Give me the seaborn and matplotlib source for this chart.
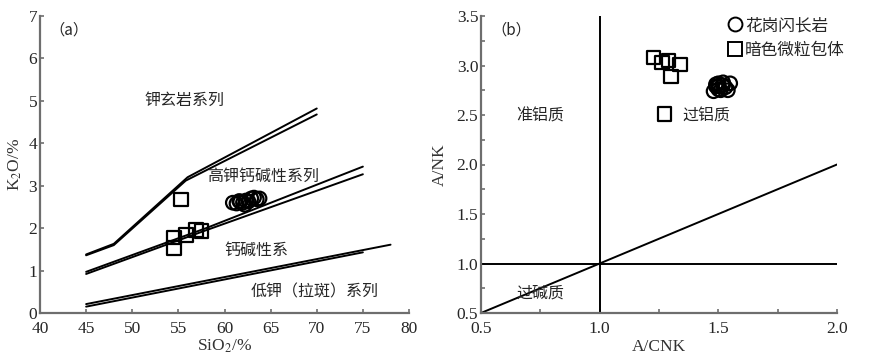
import pandas as pd
import matplotlib.pyplot as plt
import seaborn as sns
from matplotlib.lines import Line2D
from matplotlib.ticker import MultipleLocator

sns.set_style("ticks")
plt.rcParams["font.family"] = ["Liberation Serif", "Noto Sans CJK SC"]
plt.rcParams["mathtext.fontset"] = "stix"

CJK = ["Noto Sans CJK SC", "DejaVu Sans"]
SPINE = "#6e6e6e"

# === Data: (a) SiO2 - K2O ===
granodiorite_sio2 = [60.9, 61.3, 61.7, 62.0, 62.3, 62.6, 62.9, 63.2, 63.5, 63.8, 62.2, 61.6]
granodiorite_k2o = [2.60, 2.58, 2.62, 2.60, 2.65, 2.63, 2.70, 2.72, 2.68, 2.70, 2.55, 2.64]
enclave_sio2 = [55.3, 54.5, 54.5, 55.8, 56.9, 57.5]
enclave_k2o = [2.68, 1.78, 1.53, 1.84, 1.96, 1.93]

# boundary lines (two versions of each, as in the source figure)
shosh_x1, shosh_y1 = [45, 48, 56, 70], [1.38, 1.63, 3.20, 4.82]
shosh_x2, shosh_y2 = [45, 48, 55.8, 70], [1.36, 1.60, 3.12, 4.68]
highk_x1, highk_y1 = [45, 58, 75], [0.97, 2.00, 3.45]
highk_x2, highk_y2 = [45, 58, 75], [0.92, 1.95, 3.27]
lowk_x1, lowk_y1 = [45, 78], [0.21, 1.61]
lowk_x2, lowk_y2 = [45, 75], [0.15, 1.43]

# === Data: (b) A/CNK - A/NK ===
granodiorite_acnk = [1.48, 1.49, 1.50, 1.50, 1.51, 1.52, 1.52, 1.53, 1.54, 1.55, 1.50, 1.49]
granodiorite_ank = [2.74, 2.79, 2.82, 2.76, 2.75, 2.80, 2.83, 2.78, 2.75, 2.82, 2.79, 2.81]
enclave_acnk = [1.227, 1.262, 1.290, 1.339, 1.301, 1.273]
enclave_ank = [3.08, 3.03, 3.05, 3.01, 2.89, 2.51]

groups = ["花岗闪长岩", "暗色微粒包体"]

df_a = pd.DataFrame({
    "SiO2": granodiorite_sio2 + enclave_sio2,
    "K2O": granodiorite_k2o + enclave_k2o,
    "group": [groups[0]] * len(granodiorite_sio2) + [groups[1]] * len(enclave_sio2),
})
df_b = pd.DataFrame({
    "ACNK": granodiorite_acnk + enclave_acnk,
    "ANK": granodiorite_ank + enclave_ank,
    "group": [groups[0]] * len(granodiorite_acnk) + [groups[1]] * len(enclave_acnk),
})
markers = {groups[0]: "o", groups[1]: "s"}


def style_axes(ax):
    sns.despine(ax=ax)
    for side in ["left", "bottom"]:
        ax.spines[side].set_color(SPINE)
        ax.spines[side].set_linewidth(1.6)
    ax.tick_params(which="both", direction="in", color=SPINE, width=1.2,
                   labelsize=12.5, length=3)
    ax.tick_params(axis="x", which="both", pad=6)
    ax.tick_params(axis="y", which="both", pad=2)


fig = plt.figure(figsize=(8.78, 3.63), dpi=100)

# === Panel (a) ===
ax1 = fig.add_axes([40 / 878, 50 / 363, 369 / 878, 297 / 363])
line_kw = dict(color="black", lw=1.4)
for xs, ys in [(shosh_x1, shosh_y1), (shosh_x2, shosh_y2), (highk_x1, highk_y1),
               (highk_x2, highk_y2), (lowk_x1, lowk_y1), (lowk_x2, lowk_y2)]:
    ax1.plot(xs, ys, **line_kw)

sns.scatterplot(data=df_a, x="SiO2", y="K2O", style="group", markers=markers,
                s=95, facecolor="none", edgecolor="black", linewidth=1.6,
                legend=False, ax=ax1)

ax1.set_xlim(40, 80)
ax1.set_ylim(0, 7)
ax1.xaxis.set_major_locator(MultipleLocator(5))
ax1.yaxis.set_major_locator(MultipleLocator(1))
style_axes(ax1)
ax1.set_xlabel(r"SiO$_2$/%", fontsize=12.5, labelpad=0, color="#333333")
ax1.set_ylabel(r"K$_2$O/%", fontsize=12.5, labelpad=3, color="#333333")

ax1.text(41.0, 6.68, "（a）", fontsize=11, family=CJK, ha="left", va="center")
ax1.text(55.7, 5.02, "钾玄岩系列", fontsize=11.5, family=CJK, ha="center", va="center")
ax1.text(64.2, 3.21, "高钾钙碱性系列", fontsize=11.5, family=CJK, ha="center", va="center")
ax1.text(63.5, 1.48, "钙碱性系", fontsize=11.5, family=CJK, ha="center", va="center")
ax1.text(69.8, 0.50, "低钾（拉斑）系列", fontsize=11.5, family=CJK, ha="center", va="center")

# === Panel (b) ===
ax2 = fig.add_axes([481 / 878, 50 / 363, 356 / 878, 297 / 363])
ax2.plot([1.0, 1.0], [0.5, 3.5], **line_kw)
ax2.plot([0.5, 2.0], [1.0, 1.0], **line_kw)
ax2.plot([0.5, 2.0], [0.5, 2.0], **line_kw)

sns.scatterplot(data=df_b, x="ACNK", y="ANK", style="group", markers=markers,
                s=95, facecolor="none", edgecolor="black", linewidth=1.6,
                legend=False, ax=ax2)

ax2.set_xlim(0.5, 2.0)
ax2.set_ylim(0.5, 3.5)
ax2.xaxis.set_major_locator(MultipleLocator(0.5))
ax2.xaxis.set_minor_locator(MultipleLocator(0.25))
ax2.yaxis.set_major_locator(MultipleLocator(0.5))
ax2.yaxis.set_minor_locator(MultipleLocator(0.25))
ax2.xaxis.set_major_formatter(plt.FormatStrFormatter("%.1f"))
ax2.yaxis.set_major_formatter(plt.FormatStrFormatter("%.1f"))
style_axes(ax2)
ax2.set_xlabel("A/CNK", fontsize=12.5, labelpad=1, color="#333333")
ax2.set_ylabel("A/NK", fontsize=12.5, labelpad=6, color="#333333")

ax2.text(0.545, 3.36, "（b）", fontsize=11, family=CJK, ha="left", va="center")
ax2.text(0.75, 2.49, "准铝质", fontsize=11.5, family=CJK, ha="center", va="center")
ax2.text(1.45, 2.49, "过铝质", fontsize=11.5, family=CJK, ha="center", va="center")
ax2.text(0.75, 0.70, "过碱质", fontsize=11.5, family=CJK, ha="center", va="center")

handles = [Line2D([], [], marker=markers[g], ls="none", mfc="none", mec="black",
                  mew=1.4, ms=10) for g in groups]
ax2.legend(handles, groups, loc="upper right", bbox_to_anchor=(1.05, 1.03),
           frameon=False, handletextpad=0.1, handlelength=1.0, borderaxespad=0.2,
           labelspacing=0.45, prop={"family": CJK, "size": 12})

fig.savefig("out.png", dpi=100, facecolor="white")
